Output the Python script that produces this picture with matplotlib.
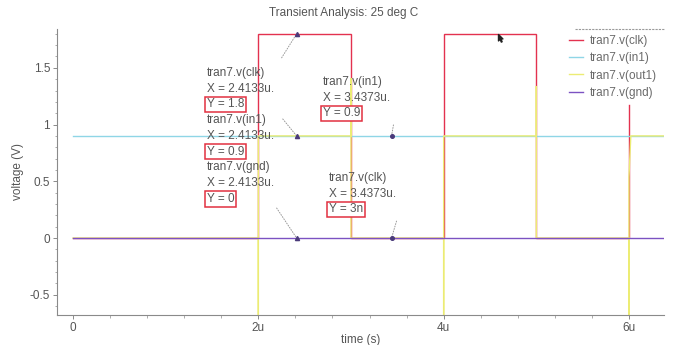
import matplotlib
matplotlib.use("Agg")
import matplotlib.pyplot as plt
from matplotlib.lines import Line2D
from matplotlib.path import Path
from matplotlib.ticker import MultipleLocator, FuncFormatter

plt.rcParams['font.family'] = ['Liberation Sans', 'DejaVu Sans']
plt.rcParams['axes.unicode_minus'] = False

# ---- waveform data (time in microseconds, voltage in volts) ----
t_clk = [0, 2, 2, 3, 3, 4, 4, 5, 5, 6, 6]
v_clk = [0, 0, 1.8, 1.8, 0, 0, 1.8, 1.8, 0, 0, 1.17]

t_in1 = [0, 6.4]
v_in1 = [0.9, 0.9]

t_out1 = [0, 2, 2, 2, 3, 3, 3, 4, 4, 4, 5, 5, 5, 6, 6, 6, 6.02, 6.4]
v_out1 = [0, 0, -0.9, 0.9, 0.9, 1.41, 0, 0, -0.7, 0.9, 0.9, 1.34, 0, 0, -0.8, 0.54, 0.9, 0.9]

t_gnd = [0, 6.4]
v_gnd = [0, 0]

signal_names = ["tran7.v(clk)", "tran7.v(in1)", "tran7.v(out1)", "tran7.v(gnd)"]
signal_colors = ["#e3324f", "#8fd6e6", "#ecec74", "#7c52c2"]

# ---- cursor readouts ----
cursor1_time = 2.4133
cursor1_signals = ["tran7.v(clk)", "tran7.v(in1)", "tran7.v(gnd)"]
cursor1_values = [1.8, 0.9, 0.0]

cursor2_time = 3.4373
cursor2_signals = ["tran7.v(in1)", "tran7.v(clk)"]
cursor2_values = [0.9, 3e-9]

x_ticks = [0, 2, 4, 6]
x_tick_labels = ["0", "2u", "4u", "6u"]
y_ticks = [-0.5, 0, 0.5, 1, 1.5]

TXT = "#555555"
AX = "#8a8a8a"

fig = plt.figure(figsize=(6.74, 3.45), dpi=100)
ax = fig.add_axes([57 / 674, 1 - 315 / 345, (664 - 57) / 674, (315 - 29) / 345])

series = [(t_clk, v_clk), (t_in1, v_in1), (t_out1, v_out1), (t_gnd, v_gnd)]
for (t, v), name, col in zip(series, signal_names, signal_colors):
    ax.plot(t, v, color=col, lw=1.0, label=name, solid_joinstyle='miter')

ax.set_xlim(-0.173, 6.378)
ax.set_ylim(-0.678, 1.842)

for s in ("top", "right"):
    ax.spines[s].set_visible(False)
for s in ("left", "bottom"):
    ax.spines[s].set_color(AX)
    ax.spines[s].set_linewidth(0.8)

ax.set_xticks(x_ticks)
ax.set_xticklabels(x_tick_labels)
ax.set_yticks(y_ticks)
ax.yaxis.set_major_formatter(FuncFormatter(lambda v, p: f"{v:g}"))
ax.xaxis.set_minor_locator(MultipleLocator(0.4))
ax.yaxis.set_minor_locator(MultipleLocator(0.1))
ax.tick_params(which='major', direction='out', length=3, width=0.7, color=AX,
               labelsize=8.5, labelcolor=TXT, pad=2)
ax.tick_params(which='minor', direction='out', length=1.8, width=0.5, color=AX)

ax.set_xlabel("time (s)", fontsize=8.5, color=TXT, labelpad=0)
ax.set_ylabel("voltage (V)", fontsize=8.5, color=TXT, labelpad=4)
fig.text(344 / 674, 1 - 13 / 345, "Transient Analysis: 25 deg C", ha='center', va='center',
         fontsize=8.5, color=TXT)

# legend with a rule above it
leg = ax.legend(loc='upper left', bbox_to_anchor=(569 / 674, 1 - 35 / 345),
                bbox_transform=fig.transFigure, frameon=False, fontsize=8.5,
                handlelength=1.2, handletextpad=0.6, labelspacing=0.45,
                borderaxespad=0, borderpad=0)
for txt in leg.get_texts():
    txt.set_color("#6a6a6a")
fig.add_artist(Line2D([575 / 674, 664 / 674], [1 - 29 / 345] * 2, transform=fig.transFigure,
                      color="#9a9a9a", lw=0.8, ls=(0, (2, 1))))


def fmt_value(v):
    if v != 0 and abs(v) < 1e-6:
        return f"{v * 1e9:g}n"
    return f"{v:g}"


LINE_STEP = 15.75 * 72 / 100  # points between text rows
BOX = dict(boxstyle='square,pad=0.15', fc='white', ec='#e23040', lw=1.1)


def readout_block(x0, y0, time_u, names, values):
    row = 0
    for name, val in zip(names, values):
        rows = [(name, None), (f"X = {time_u:.4f}u.", None), (f"Y = {fmt_value(val)}", BOX)]
        for text, box in rows:
            ax.annotate(text, xy=(x0, y0), xytext=(0, -row * LINE_STEP),
                        textcoords='offset points', ha='left', va='center',
                        fontsize=8.5, color=TXT, bbox=box, zorder=5)
            row += 1


readout_block(1.446, 1.456, cursor1_time, cursor1_signals, cursor1_values)
readout_block(2.70, 1.377, cursor2_time, cursor2_signals[:1], cursor2_values[:1])
readout_block(2.76, 0.53, cursor2_time, cursor2_signals[1:], cursor2_values[1:])

# cursor markers with leader lines
leader_offsets1 = [(-10.8, -17.3), (-10.0, 12.2), (-14.4, 21.6)]
leader_offsets2 = [(1.4, 7.9), (3.6, 12.2)]
for t, vals, offs, mk, ms in ((cursor1_time, cursor1_values, leader_offsets1, '^', 3.0),
                              (cursor2_time, cursor2_values, leader_offsets2, 'o', 2.6)):
    for v, off in zip(vals, offs):
        ax.annotate("", xy=(t, v), xytext=off, textcoords='offset points',
                    arrowprops=dict(arrowstyle='-', color='#9a9a9a', lw=0.7, ls=':',
                                    shrinkA=0, shrinkB=0))
        ax.plot([t], [v], marker=mk, ms=ms, color='#4a3a7a', mec='#4a3a7a', zorder=6)

# mouse pointer
pointer_pos = (4.59, 1.795)
pointer = Path([(0, 0), (0, -16), (4, -12), (7, -19), (9, -18), (6, -11), (11, -11), (0, 0)],
               [Path.MOVETO] + [Path.LINETO] * 6 + [Path.CLOSEPOLY])
ax.plot([pointer_pos[0]], [pointer_pos[1]], marker=pointer, ms=11, color='#222222',
        mec='#222222', zorder=7, clip_on=False)

fig.savefig("out.png", dpi=100)
